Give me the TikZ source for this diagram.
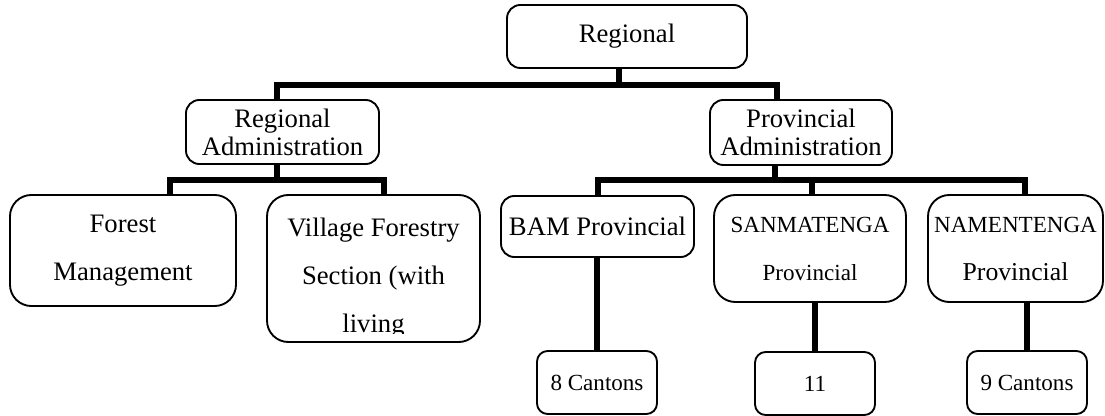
\documentclass[tikz,border=0pt]{standalone}
\usepackage{fontspec}
\setmainfont{Liberation Serif}
\begin{document}
\begin{tikzpicture}[x=0.75pt,y=-0.75pt,
  box/.style={draw=black, line width=1.4pt, fill=white, rounded corners=10pt,
    inner sep=0pt, align=center, font=\fontsize{20}{21}\selectfont},
  tall/.style={rounded corners=16pt},
  leaf/.style={rounded corners=8pt, minimum width=90pt, minimum height=47.25pt,
    font=\fontsize{17.3}{18}\selectfont},
  conn/.style={line width=4.7pt, line join=miter},
]
\useasboundingbox (0,0) rectangle (1105,416);

% top level
\node[box, minimum width=180pt, minimum height=47.25pt] (reg) at (627,36.5) {Regional};

% second level
\node[box, minimum width=144.75pt, minimum height=48pt] (ra) at (282.5,132) {Regional\\Administration};
\node[box, minimum width=136.5pt, minimum height=48.75pt] (pa) at (801,132.5) {Provincial\\Administration};

% regional branch
\node[box, tall, minimum width=169.5pt, minimum height=83.25pt,
  font=\fontsize{20}{36}\selectfont] (fm) at (123,250.5) {Forest\\Management};
\node[box, tall, minimum width=159.75pt, minimum height=110.25pt] (vf) at (373.5,268.5) {};
\begin{scope}
  \clip (267,195) rectangle (480,333);
  \node[align=center, inner sep=0pt, font=\fontsize{20}{36}\selectfont] (vft) at (373.5,278)
    {Village Forestry\\Section (with\\living};
\end{scope}

% provincial branch
\node[box, minimum width=144.75pt, minimum height=45.75pt] (bam) at (597.5,226.5) {BAM Provincial};
\node[box, tall, minimum width=144pt, minimum height=80.25pt,
  font=\fontsize{17.3}{36}\selectfont] (san) at (810,248.5) {SANMATENGA\\Provincial};
\node[box, tall, minimum width=131.25pt, minimum height=80.25pt,
  font=\fontsize{19.3}{36}\selectfont] (nam) at (1015.5,248.5)
  {{\fontsize{17.3}{36}\selectfont NAMENTENGA}\\Provincial};

% cantons
\node[box, leaf] (c8) at (597,382.5) {8 Cantons};
\node[box, leaf] (c11) at (815,383.5) {11};
\node[box, leaf] (c9) at (1027,382.5) {9 Cantons};

% junction points
\coordinate (t0) at (619,85);
\coordinate (t1) at (277,85);
\coordinate (t2) at (777,85);
\coordinate (l0) at (277,180);
\coordinate (l1) at (170,180);
\coordinate (l2) at (384,180);
\coordinate (r0) at (775,180);
\coordinate (r1) at (598,180);
\coordinate (r2) at (812,180);
\coordinate (r3) at (1025,180);

% connectors
\draw[conn] (reg.south -| t0) -- (t0);
\draw[conn] (ra.north -| t1) -- (t1) -- (t2) -- (pa.north -| t2);
\draw[conn] (ra.south -| l0) -- (l0);
\draw[conn] (fm.north -| l1) -- (l1) -- (l2) -- (vf.north -| l2);
\draw[conn] (pa.south -| r0) -- (r0);
\draw[conn] (bam.north -| r1) -- (r1) -- (r3) -- (nam.north -| r3);
\draw[conn] (r2) -- (san.north -| r2);
\draw[conn] (bam.south -| c8.north) -- (c8.north);
\draw[conn] (san.south -| c11.north) -- (c11.north);
\draw[conn] (nam.south -| c9.north) -- (c9.north);
\end{tikzpicture}
\end{document}
